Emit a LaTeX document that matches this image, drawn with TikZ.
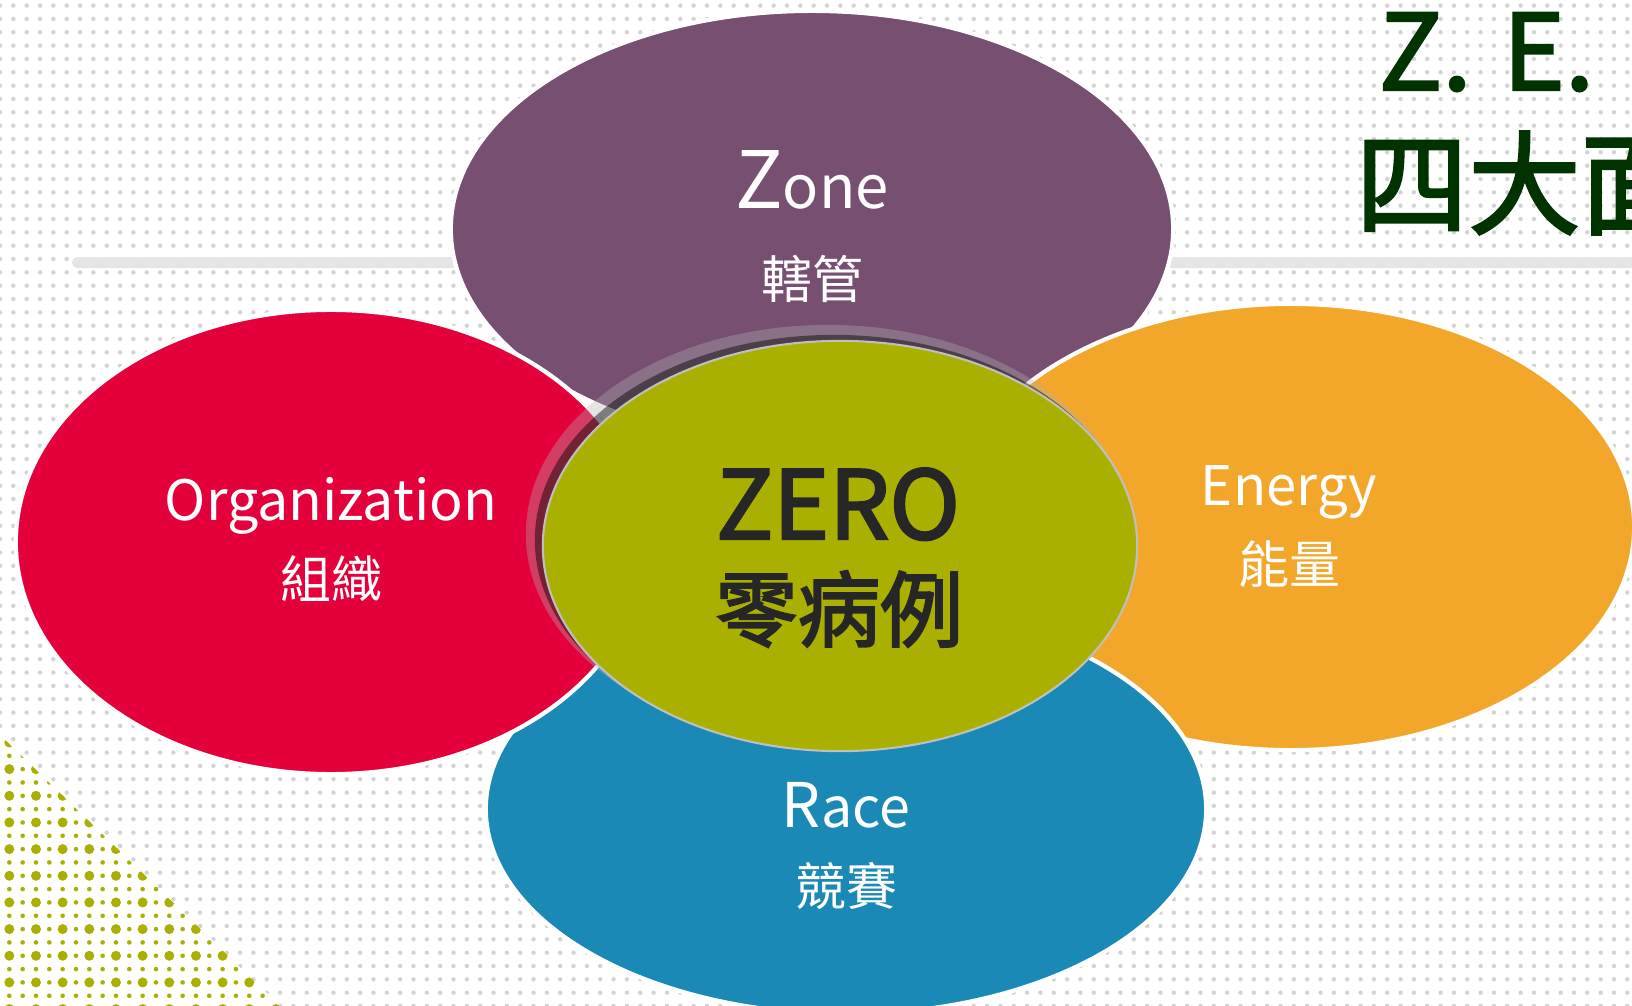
\documentclass[tikz,border=0pt]{standalone}
\usepackage{fontspec}
\setmainfont{Noto Sans CJK TC}
\newfontfamily\semibold[FakeBold=2.5]{Noto Sans CJK TC}
\newfontfamily\headfont[FakeBold=2.2, WordSpace=1.32]{Noto Sans CJK TC}
\usetikzlibrary{positioning, patterns}
\definecolor{zonepurple}{RGB}{119,79,112}
\definecolor{orgred}{RGB}{228,0,58}
\definecolor{energyorange}{RGB}{242,167,43}
\definecolor{raceblue}{RGB}{26,137,181}
\definecolor{zerogreen}{RGB}{170,176,0}
\definecolor{titlegreen}{RGB}{0,51,0}
\definecolor{dotgray}{RGB}{211,211,211}
\definecolor{bargray}{RGB}{229,229,229}
\definecolor{darktext}{RGB}{38,38,38}
% background dot grid
\pgfdeclarepatternformonly{bgdots}{\pgfqpoint{-1pt}{-1pt}}{\pgfqpoint{1pt}{1pt}}%
  {\pgfqpoint{3.793pt}{3.793pt}}%
  {\pgfpathcircle{\pgfqpoint{0pt}{0pt}}{0.63pt}\pgfusepath{fill}}

\begin{document}
\begin{tikzpicture}[x=0.01cm, y=-0.01cm,
  petal/.style={draw=white, line width=1.2pt},
  lbl/.style={text=white, inner sep=0pt, anchor=base},
  sub/.style={text=white, inner sep=0pt, font=\fontsize{14.5}{17}\selectfont},
  centre/.style={text=darktext, inner sep=0pt},
  headline/.style={text=titlegreen, inner sep=0pt}
]
  \useasboundingbox (0,0) rectangle (1632,1006);
  \clip (0,0) rectangle (1632,1006);
  \fill[white] (0,0) rectangle (1632,1006);
  \fill[pattern=bgdots, pattern color=dotgray] (0,0) rectangle (1632,1006);

  % green dots in the lower left corner
  \begin{scope}
    \clip (0,735) -- (280,1006) -- (0,1006) -- cycle;
    \fill[white] (0,735) rectangle (290,1006);
    \foreach \j in {54,...,75}
      \fill[zerogreen] \foreach \i in {0,...,21} {(9.33+13.33*\i, 9.33+13.33*\j) circle (0.023cm)};
    \foreach \j in {55,57,...,75}
      \fill[zerogreen] \foreach \i in {0,2,...,20} {(9.33+13.33*\i, 9.33+13.33*\j) circle (0.05cm)};
  \end{scope}
  \fill[bargray, rounded corners=0.05cm] (72,257) rectangle (1660,268);

  % petals
  \path[petal, fill=zonepurple]   (812,229)  ellipse [x radius=3.61cm, y radius=2.18cm];
  \path[petal, fill=energyorange] (1291,527) ellipse [x radius=3.43cm, y radius=2.23cm];
  \path[petal, fill=raceblue]     (846,809)  ellipse [x radius=3.60cm, y radius=2.05cm];
  \path[petal, fill=orgred]       (331,542)  ellipse [x radius=3.15cm, y radius=2.32cm];

  % centre with its shadow ring
  \fill[gray!60, opacity=0.35] (828,534) ellipse [x radius=3.02cm, y radius=2.09cm];
  \fill[black, opacity=0.45]   (834,540) ellipse [x radius=2.99cm, y radius=2.05cm];
  \path[draw=black!25, line width=0.6pt, fill=zerogreen] (840,546) ellipse [x radius=2.97cm, y radius=2.05cm];

  \node[lbl] (zone) at (812,208)
    {{\fontsize{22.5}{26}\selectfont Z}{\fontsize{17}{21}\selectfont one}};
  \node[sub] (zonezh) at (812,279) {轄管};
  \node[lbl, font=\fontsize{15.8}{19}\selectfont] (org) at (331,520) {Organization};
  \node[sub] (orgzh) at (331,579) {組織};
  \node[lbl, font=\fontsize{15.5}{19}\selectfont] (energy) at (1289,505) {Energy};
  \node[sub] (energyzh) at (1289,564) {能量};
  \node[lbl] (race) at (846,827)
    {{\fontsize{17.5}{21}\selectfont R}{\fontsize{15.8}{19}\selectfont ace}};
  \node[sub] (racezh) at (846,886) {競賽};

  \node[centre, anchor=base, font=\semibold\fontsize{27}{32}\selectfont] (zero) at (838,539) {ZERO};
  \node[centre, font=\semibold\fontsize{23.5}{28}\selectfont] (zerozh) at (839,609) {零病例};

  % heading, cut by the page edge
  \node[headline, anchor=base west, font=\headfont\fontsize{30}{34}\selectfont] (head) at (1378,90) {Z. E. R};
  \node[headline, anchor=west, font=\headfont\fontsize{32}{36}\selectfont] (headzh) at (1355,183) {四大面};
\end{tikzpicture}
\end{document}
